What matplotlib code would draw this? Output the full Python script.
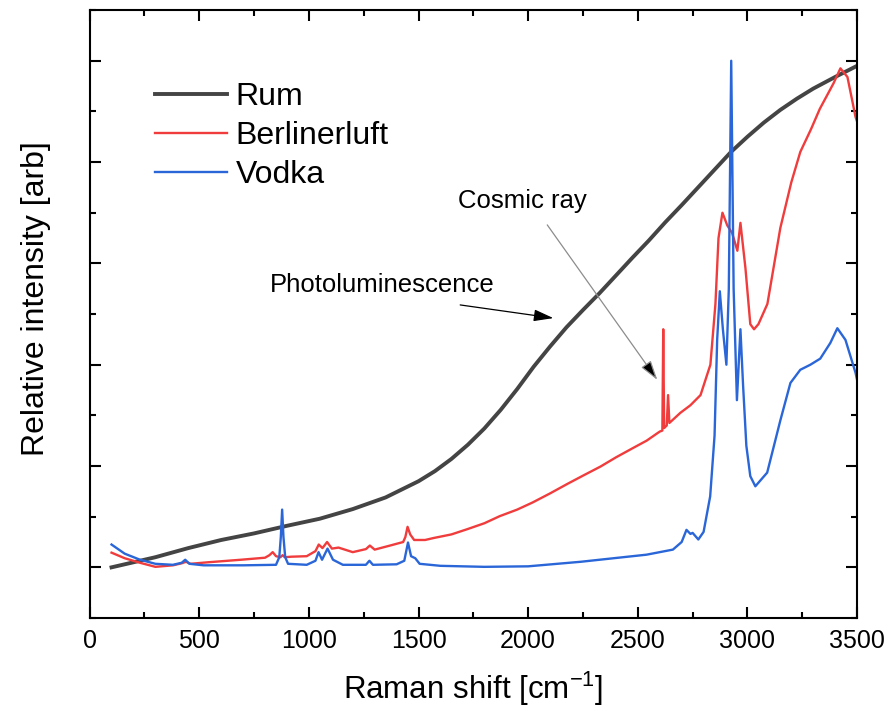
import matplotlib
matplotlib.use("Agg")
import matplotlib.pyplot as plt
from matplotlib.ticker import MultipleLocator, NullFormatter

plt.rcParams['font.family'] = ['Liberation Sans', 'DejaVu Sans']
plt.rcParams['mathtext.fontset'] = 'custom'
plt.rcParams['mathtext.rm'] = 'Liberation Sans'
plt.rcParams['mathtext.it'] = 'Liberation Sans:italic'

# Rum: broad photoluminescence background
rum_x = [100, 200, 300, 450, 600, 750, 900, 1050, 1200, 1350, 1425, 1500, 1575, 1650, 1725,
         1800, 1875, 1950, 2025, 2100, 2175, 2250, 2325, 2400, 2475, 2550, 2625, 2700,
         2775, 2850, 2925, 3000, 3075, 3150, 3225, 3300, 3400, 3500]
rum_y = [0.0, 0.01, 0.02, 0.038, 0.054, 0.067, 0.082, 0.096, 0.115, 0.138, 0.154, 0.17,
         0.19, 0.214, 0.242, 0.274, 0.311, 0.352, 0.396, 0.436, 0.474, 0.508, 0.541,
         0.576, 0.611, 0.645, 0.681, 0.715, 0.75, 0.785, 0.82, 0.85, 0.878, 0.903, 0.925,
         0.945, 0.968, 0.99]

# Berlinerluft
berl_x = [100, 160, 230, 300, 380, 420, 440, 460, 540, 690, 800, 820, 835, 850, 870, 880,
          890, 920, 990, 1030, 1045, 1062, 1083, 1105, 1135, 1200, 1260, 1278, 1300, 1370,
          1430, 1440, 1450, 1462, 1480, 1530, 1570, 1650, 1720, 1800, 1870, 1950, 2020,
          2100, 2180, 2250, 2330, 2400, 2480, 2540, 2600, 2612, 2616, 2620, 2632, 2638,
          2644, 2694, 2740, 2786, 2831, 2854, 2868, 2886, 2908, 2930, 2954, 2968, 2991,
          3013, 3030, 3050, 3091, 3150, 3200, 3241, 3290, 3330, 3392, 3424, 3456, 3493, 3500]
berl_y = [0.029, 0.018, 0.009, 0.001, 0.004, 0.008, 0.011, 0.007, 0.010, 0.015, 0.019, 0.024,
          0.03, 0.022, 0.02, 0.024, 0.02, 0.021, 0.022, 0.032, 0.045, 0.038, 0.05, 0.037,
          0.039, 0.03, 0.036, 0.043, 0.035, 0.043, 0.05, 0.06, 0.08, 0.065, 0.054, 0.054,
          0.058, 0.065, 0.075, 0.087, 0.101, 0.114, 0.128, 0.146, 0.165, 0.181, 0.199,
          0.217, 0.236, 0.25, 0.268, 0.27, 0.47, 0.275, 0.28, 0.34, 0.285, 0.305, 0.32,
          0.34, 0.40, 0.52, 0.65, 0.70, 0.675, 0.66, 0.625, 0.68, 0.59, 0.48, 0.47, 0.48,
          0.52, 0.67, 0.76, 0.82, 0.865, 0.905, 0.955, 0.985, 0.968, 0.889, 0.88]

# Vodka
vod_x = [100, 130, 160, 230, 300, 380, 420, 436, 455, 520, 700, 850, 865, 872, 878, 884,
         892, 905, 990, 1030, 1044, 1060, 1085, 1110, 1155, 1260, 1276, 1292, 1400, 1435,
         1452, 1466, 1485, 1505, 1600, 1800, 2000, 2240, 2540, 2660, 2700, 2722, 2740,
         2750, 2776, 2800, 2830, 2850, 2862, 2874, 2888, 2904, 2915, 2926, 2937, 2952,
         2968, 2980, 2995, 3013, 3036, 3090, 3150, 3196, 3241, 3287, 3332, 3378, 3410,
         3447, 3493, 3500]
vod_y = [0.045, 0.036, 0.027, 0.015, 0.007, 0.005, 0.009, 0.015, 0.007, 0.004, 0.004, 0.005,
         0.02, 0.06, 0.114, 0.06, 0.02, 0.007, 0.005, 0.013, 0.03, 0.015, 0.037, 0.015,
         0.005, 0.005, 0.013, 0.005, 0.006, 0.013, 0.049, 0.022, 0.018, 0.007, 0.003,
         0.001, 0.002, 0.011, 0.025, 0.035, 0.05, 0.074, 0.066, 0.068, 0.055, 0.07, 0.14,
         0.26, 0.45, 0.545, 0.47, 0.40, 0.55, 1.0, 0.55, 0.33, 0.47, 0.36, 0.24, 0.18,
         0.16, 0.187, 0.29, 0.364, 0.39, 0.40, 0.412, 0.443, 0.472, 0.449, 0.384, 0.37]

labels = ["Rum", "Berlinerluft", "Vodka"]
colors = {"Rum": "#444444", "Berlinerluft": "#f03c3c", "Vodka": "#2a66d8"}

fig = plt.figure(figsize=(8.89, 7.11), dpi=100)
ax = fig.add_axes([0.1008, 0.1308, 0.8633, 0.855])

ax.plot(rum_x, rum_y, color=colors["Rum"], lw=2.8, label=labels[0])
ax.plot(berl_x, berl_y, color=colors["Berlinerluft"], lw=1.7, label=labels[1])
ax.plot(vod_x, vod_y, color=colors["Vodka"], lw=1.7, label=labels[2])

ax.set_xlim(0, 3500)
ax.set_ylim(-0.1, 1.1)
ax.xaxis.set_major_locator(MultipleLocator(500))
ax.xaxis.set_minor_locator(MultipleLocator(250))
ax.yaxis.set_major_locator(MultipleLocator(0.2))
ax.yaxis.set_minor_locator(MultipleLocator(0.1))
ax.yaxis.set_major_formatter(NullFormatter())
ax.tick_params(which='both', direction='in', top=True, right=True, width=1.5)
ax.tick_params(which='major', length=8, labelsize=18, pad=8)
ax.tick_params(which='minor', length=4)
for s in ax.spines.values():
    s.set_linewidth(1.5)

ax.set_xlabel(r'Raman shift [cm$^{\mathrm{-1}}$]', fontsize=22.5, labelpad=12)
ax.set_ylabel('Relative intensity [arb]', fontsize=23)
ax.yaxis.set_label_coords(-0.05, 0.526)

ax.legend(loc='upper left', bbox_to_anchor=(0.085, 0.882), frameon=False, fontsize=23,
          handlelength=2.25, handletextpad=0.28, labelspacing=0.28, borderpad=0,
          borderaxespad=0)

ax.text(1973, 0.723, 'Cosmic ray', fontsize=18.5, ha='center', va='center')
ax.annotate('', xy=(2589, 0.37), xytext=(2087, 0.676),
            arrowprops=dict(arrowstyle='-|>,head_length=0.6,head_width=0.18',
                            mutation_scale=20, lw=0.9, ec='#8c8c8c', fc='black',
                            shrinkA=0, shrinkB=0))
ax.text(1334, 0.558, 'Photoluminescence', fontsize=18.5, ha='center', va='center')
ax.annotate('', xy=(2115, 0.492), xytext=(1690, 0.518),
            arrowprops=dict(arrowstyle='-|>,head_length=0.6,head_width=0.18',
                            mutation_scale=20, lw=0.9, color='black',
                            shrinkA=0, shrinkB=0))

fig.savefig('out.png', dpi=100)
